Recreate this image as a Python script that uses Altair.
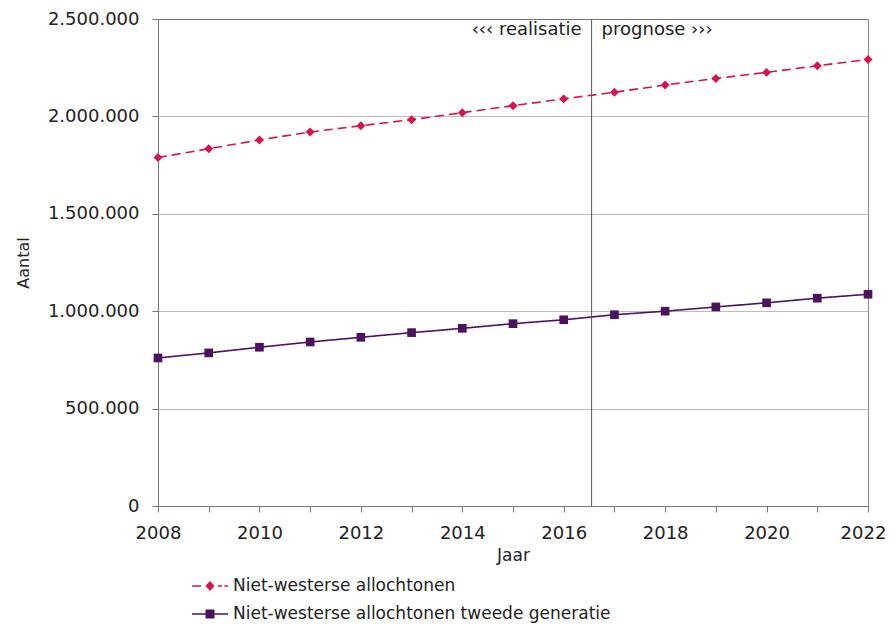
import altair as alt
import pandas as pd

years = list(range(2008, 2023))
niet_westers = [1789000, 1834000, 1879000, 1920000, 1952000, 1983000, 2019000, 2055000,
                2090000, 2124000, 2161000, 2195000, 2226000, 2260000, 2292000]
tweede_gen = [760000, 786000, 815000, 842000, 866000, 890000, 912000, 936000,
              956000, 982000, 1000000, 1022000, 1043000, 1067000, 1087000]
series_names = ["Niet-westerse allochtonen", "Niet-westerse allochtonen tweede generatie"]
grens_jaar = 2016.55
labels_txt = ["‹‹‹ realisatie", "prognose ›››"]

RED = "#D5134C"
PURPLE = "#4B125F"

rows = []
for y, v in zip(years, niet_westers):
    rows.append({"jaar": y, "aantal": v, "series": series_names[0]})
for y, v in zip(years, tweede_gen):
    rows.append({"jaar": y, "aantal": v, "series": series_names[1]})
df = pd.DataFrame(rows)
df["legend"] = df["series"]

x_enc = alt.X("jaar:Q", title="Jaar",
              scale=alt.Scale(domain=[2008, 2022], nice=False, zero=False),
              axis=alt.Axis(values=years, labelExpr="datum.value % 2 == 0 ? datum.value : ''",
                            grid=False, tickSize=6, labelFont="DejaVu Sans",
                            labelFontSize=18, labelFontWeight="normal", labelFlush=False,
                            labelOffset={"condition": {"test": "datum.value == 2022", "value": -5},
                                         "value": 0},
                            titleFont="DejaVu Sans",
                            titleFontSize=17, titleFontWeight="normal", titlePadding=5,
                            labelPadding=12, domainColor="#777", tickColor="#777",
                            labelColor="#222", titleColor="#222"))
y_enc = alt.Y("aantal:Q", title="Aantal",
              scale=alt.Scale(domain=[0, 2500000], nice=False),
              axis=alt.Axis(values=[0, 500000, 1000000, 1500000, 2000000, 2500000],
                            format=",d", grid=True, gridDash=[1, 1], gridColor="#555",
                            gridWidth=0.8,
                            tickSize=6, labelFont="DejaVu Sans", labelFontSize=18,
                            labelPadding=13, labelFlush=False,
                            titleFont="DejaVu Sans", titleFontSize=16,
                            titleFontWeight="normal", titlePadding=16,
                            domainColor="#777", tickColor="#777",
                            labelColor="#222", titleColor="#222"))

color_scale = alt.Scale(domain=series_names, range=[RED, PURPLE])

lines = alt.Chart(df).mark_line(strokeWidth=1.6).encode(
    x=x_enc, y=y_enc,
    color=alt.Color("series:N", scale=color_scale, legend=None),
    strokeDash=alt.StrokeDash("series:N",
                              scale=alt.Scale(domain=series_names, range=[[9, 5], [1, 0]]),
                              legend=None),
)

points = alt.Chart(df).mark_point(filled=True, opacity=1).encode(
    x="jaar:Q", y="aantal:Q",
    color=alt.Color("series:N", scale=color_scale, legend=None),
    shape=alt.Shape("series:N", scale=alt.Scale(domain=series_names, range=["diamond", "square"]),
                    legend=None),
    size=alt.Size("series:N", scale=alt.Scale(domain=series_names, range=[80, 75]), legend=None),
)

red_sym = ("M-2,-0.09H-1.0V0.09H-2Z "
           "M0,-0.55L0.5,0L0,0.55L-0.5,0Z "
           "M0.85,-0.09H1.35V0.09H0.85Z M1.6,-0.09H2V0.09H1.6Z")
purple_sym = ("M-2,-0.08H2V0.08H-2Z M-0.5,-0.5H0.5V0.5H-0.5Z")

leg = dict(orient="none", legendX=43, legendY=558, direction="vertical", symbolSize=324,
           labelFont="DejaVu Sans", labelFontSize=17, labelFontWeight="normal",
           labelColor="#222", rowPadding=11, labelOffset=14, labelLimit=600,
           symbolStrokeWidth=0, padding=0)

legend_layer = alt.Chart(df).transform_filter("false").mark_point(filled=True, opacity=1).encode(
    x="jaar:Q", y="aantal:Q",
    color=alt.Color("legend:N", scale=alt.Scale(domain=series_names, range=[RED, PURPLE]),
                    title=None, legend=alt.Legend(**leg)),
    shape=alt.Shape("legend:N", scale=alt.Scale(domain=series_names, range=[red_sym, purple_sym]),
                    title=None, legend=alt.Legend(**leg)),
)

rule_df = pd.DataFrame({"jaar": [grens_jaar]})
rule = alt.Chart(rule_df).mark_rule(color="#555", strokeWidth=1).encode(x="jaar:Q")

txt_df = pd.DataFrame({"jaar": [grens_jaar, grens_jaar], "aantal": [2500000, 2500000],
                       "label": labels_txt, "side": ["l", "r"]})
txt_left = alt.Chart(txt_df).transform_filter("datum.side == 'l'").mark_text(
    align="right", baseline="middle", dx=-10, dy=11, font="DejaVu Sans", fontSize=18,
    color="#222").encode(x="jaar:Q", y="aantal:Q", text="label:N")
txt_right = alt.Chart(txt_df).transform_filter("datum.side == 'r'").mark_text(
    align="left", baseline="middle", dx=10, dy=11, font="DejaVu Sans", fontSize=18,
    color="#222").encode(x="jaar:Q", y="aantal:Q", text="label:N")

chart = alt.layer(lines, points, rule, txt_left, txt_right, legend_layer).resolve_scale(
    color="independent", shape="independent"
).properties(
    width=710, height=487,
    autosize=alt.AutoSizeParams(type="none"),
    padding={"left": 150, "top": 11, "right": 18, "bottom": 124},
).configure(
    locale={"number": {"decimal": ",", "thousands": ".", "grouping": [3], "currency": ["€", ""]}}
).configure_view(stroke="#888", strokeWidth=1)

chart.save("out.html", embed_options={"renderer": "svg", "actions": False})
